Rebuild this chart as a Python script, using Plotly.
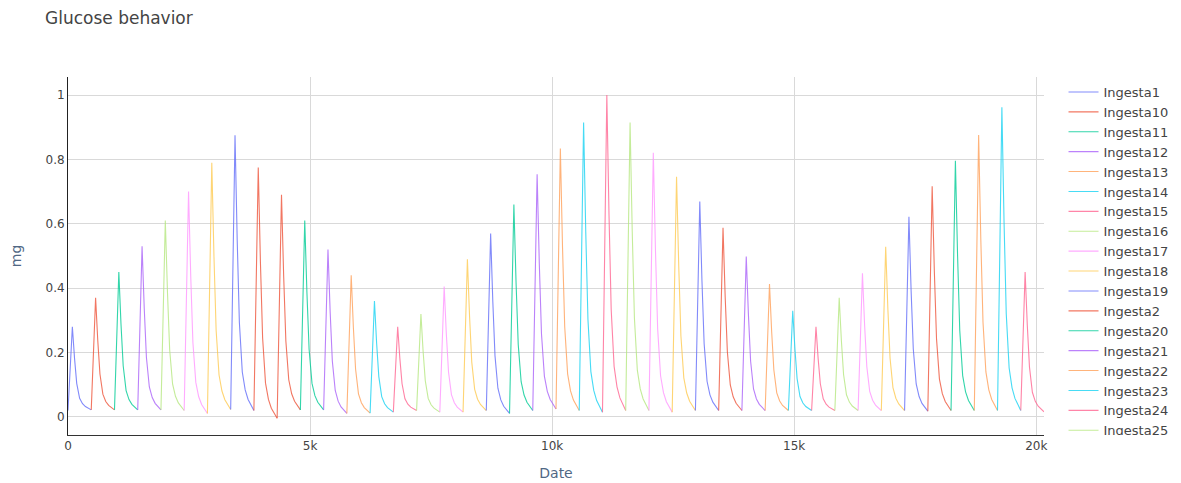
import plotly.graph_objects as go

# ---- data ----
ingestion_numbers = list(range(1, 43))
interval_minutes = 480
# peak glucose (mg) of each ingestion, in time order (Ingesta1 .. Ingesta42)
peak_mg = [0.28, 0.37, 0.45, 0.53, 0.61, 0.70, 0.79, 0.875, 0.775, 0.69,
           0.61, 0.52, 0.44, 0.36, 0.28, 0.32, 0.405, 0.49, 0.57, 0.66,
           0.754, 0.834, 0.915, 1.0, 0.915, 0.821, 0.746, 0.669, 0.588, 0.498,
           0.413, 0.33, 0.28, 0.37, 0.446, 0.529, 0.622, 0.717, 0.796, 0.876,
           0.962, 0.45]
# level reached at the end of each ingestion interval
end_mg = [0.022, 0.022, 0.022, 0.022, 0.02, 0.011, 0.023, 0.02, -0.004, 0.022,
          0.022, 0.011, 0.012, 0.015, 0.02, 0.015, 0.015, 0.02, 0.011, 0.02,
          0.025, 0.02, 0.015, 0.02, 0.02, 0.015, 0.02, 0.02, 0.02, 0.02,
          0.02, 0.02, 0.02, 0.02, 0.02, 0.02, 0.018, 0.02, 0.02, 0.02,
          0.02, 0.016]
first_start_mg = 0.02
# sample times within one interval and the decay shape
sample_minutes = [0, 90, 135, 180, 240, 300, 360, 420, 480]
decay_shape = [None, 1.0, 0.62, 0.32, 0.14, 0.075, 0.04, 0.018, 0.0]

# ---- build traces ----
series = {}
for i, n in enumerate(ingestion_numbers):
    t0 = (n - 1) * interval_minutes
    xs = [t0 + m for m in sample_minutes]
    start = first_start_mg if i == 0 else end_mg[i - 1]
    ys = [start] + [end_mg[i] + (peak_mg[i] - end_mg[i]) * f for f in decay_shape[1:]]
    series[f"Ingesta{n}"] = (xs, ys)

fig = go.Figure()
for name in sorted(series.keys()):
    xs, ys = series[name]
    fig.add_trace(go.Scatter(x=xs, y=ys, mode="lines", name=name,
                             opacity=0.8, line=dict(width=1.1)))

FONT = "DejaVu Sans"
fig.update_layout(
    template="plotly_white",
    width=1185, height=475,
    margin=dict(l=60, r=149, t=69, b=48),
    font=dict(family=FONT, size=12, color="#444"),
    title=dict(text="Glucose behavior", x=37 / 1185, xanchor="left", y=0.979,
               yanchor="middle", font=dict(family=FONT, size=17, color="#444")),
    plot_bgcolor="white",
    legend=dict(font=dict(family=FONT, size=13, color="#444"), tracegroupgap=0,
                x=1.02, xanchor="left", y=1, yanchor="top"),
)
fig.update_xaxes(title=dict(text="Date", font=dict(size=14, color="#506784")),
                 range=[0, 20160], tickfont=dict(size=12, color="#444"),
                 showline=True, linecolor="#333", linewidth=1,
                 gridcolor="#d9d9d9", zeroline=False, automargin=False)
fig.update_yaxes(title=dict(text="mg", font=dict(size=14, color="#506784"), standoff=22),
                 range=[-0.056, 1.056], tickfont=dict(size=12, color="#444"),
                 showline=True, linecolor="#222", linewidth=1,
                 gridcolor="#d9d9d9", zeroline=True, zerolinecolor="#d9d9d9",
                 zerolinewidth=1, dtick=0.2, automargin=False)

fig.write_html("out.html")
